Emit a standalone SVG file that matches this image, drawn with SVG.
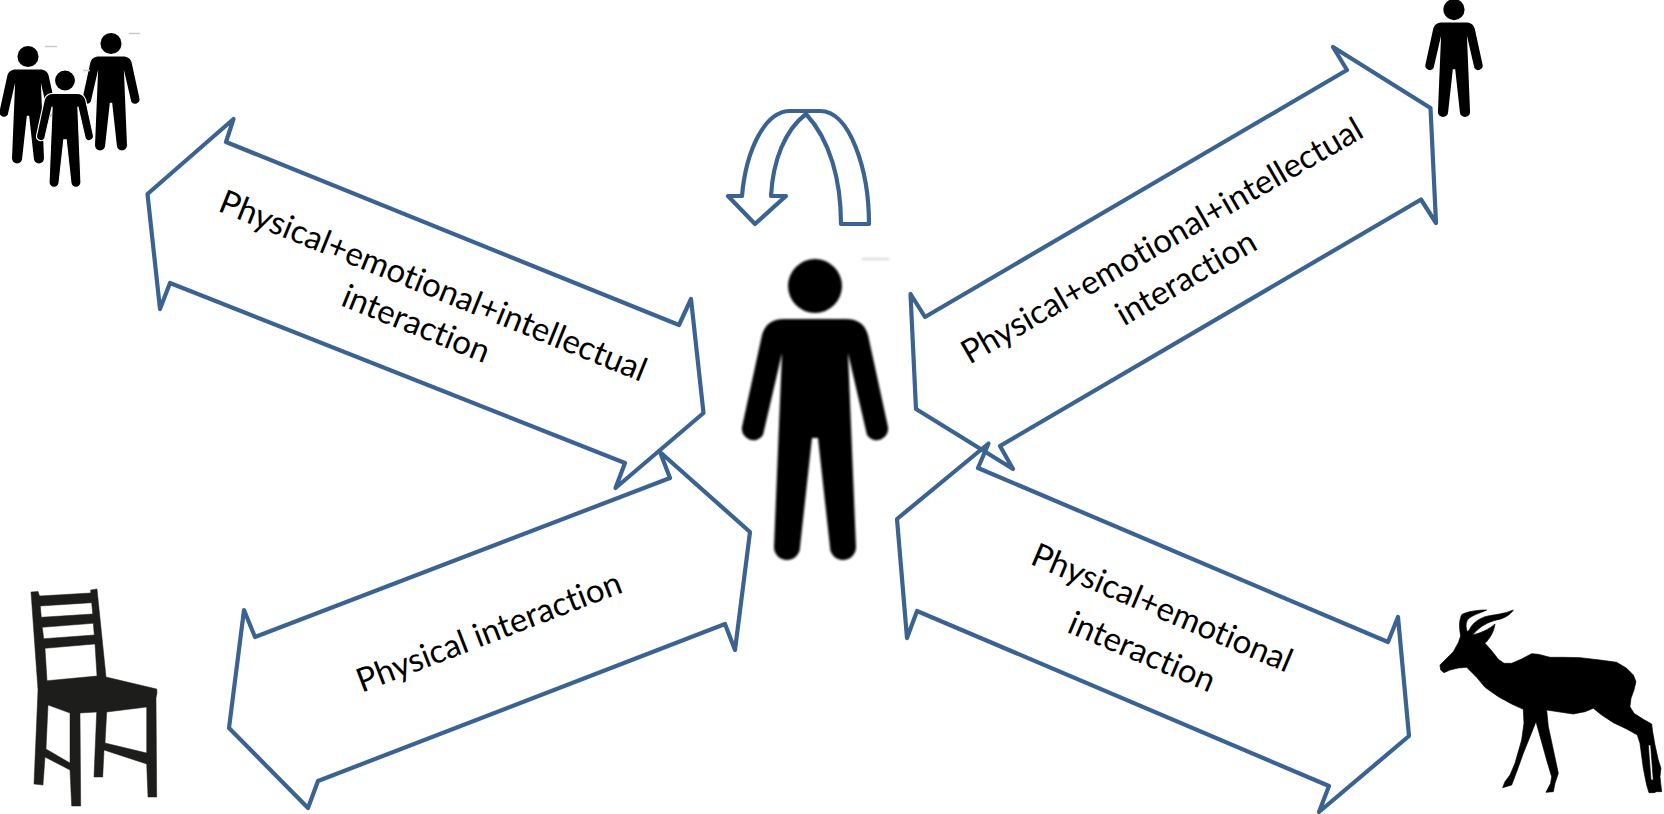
<svg xmlns="http://www.w3.org/2000/svg" width="1664" height="814" viewBox="0 0 1664 814">
<style>
.arrow{fill:none;stroke:#3b6391;stroke-width:4.2;stroke-linejoin:round;stroke-linecap:round}
.lbl{font-family:"Lato","Carlito","Liberation Sans",sans-serif;font-size:33px;fill:#000;text-anchor:middle;font-variant-ligatures:none}
.dash{stroke:#c9c9c9;stroke-width:1.5}
.soft{filter:url(#soft)}
.softer{filter:url(#softer)}
</style>
<defs>
<filter id="soft" x="-5%" y="-5%" width="110%" height="110%"><feGaussianBlur stdDeviation="0.6"/></filter>
<filter id="softer" x="-5%" y="-5%" width="110%" height="110%"><feGaussianBlur stdDeviation="1"/></filter>
<g id="person">
<circle cx="0" cy="27" r="27"/>
<path d="M-30 60H30C44 60 50 66 53 76L73 168A11.500 11.500 0 0 1 52 176L33 94L41 288A13 13 0 0 1 15 288L3 179H-3L-15 288A13 13 0 0 1 -41 288L-33 94L-52 176A11.500 11.500 0 0 1 -73 168L-53 76C-50 66 -44 60 -30 60Z"/>
</g>
</defs>
<rect width="1664" height="814" fill="#fff"/>
<g id="connectors">
<path class="arrow" d="M147.500 194L233.500 119L226 142L679 325L691 299L703.500 413L615.500 488L625 463L170 283L160 309Z"/>
<path class="arrow" d="M660 452L750 532L735 650L725 624L318 781L308 808L229 728L244 610L255 637L670 478Z"/>
<path class="arrow" d="M1333 47L1347 70L925 317L910.500 294L916 409L1013 469L1000 446L1421 199.500L1436 223L1430.500 108Z"/>
<path class="arrow" d="M988.500 443.500L978 468L1388 642L1398 617L1409 736L1319 812L1329 786L917 611L907 638L897 519Z"/>
<path id="self-loop" class="arrow" d="M742 196C746 150 765 111 790 111H820C850 111 869 170 869 224H841C841 180 830 140 806 114C785 130 773 160 771 196H786L755 224L728 196Z"/>
</g>
<g id="labels">
<g transform="translate(433 286) rotate(22)"><text class="lbl" y="11">Physical+emotional+intellectual</text></g>
<g transform="translate(416 324) rotate(22)"><text class="lbl" y="11">interaction</text></g>
<g transform="translate(489 632) rotate(-21)"><text class="lbl" y="11">Physical interaction</text></g>
<g transform="translate(1162 241) rotate(-30)"><text class="lbl" y="11">Physical+emotional+intellectual</text></g>
<g transform="translate(1186 278) rotate(-30)"><text class="lbl" y="11">interaction</text></g>
<g transform="translate(1162 608) rotate(23)"><text class="lbl" y="11">Physical+emotional</text></g>
<g transform="translate(1142 652) rotate(23)"><text class="lbl" y="11">interaction</text></g>
</g>
<g id="node-self" class="softer">
<use href="#person" transform="translate(815 259)"/>
<line class="dash" x1="862" y1="259" x2="889" y2="259"/>
</g>
<g id="node-group" class="soft">
<use href="#person" transform="translate(28 46) scale(.39)"/>
<use href="#person" transform="translate(111 33) scale(.39)"/>
<use href="#person" transform="translate(65 70) scale(.39)" stroke="#fff" stroke-width="3"/>
<line class="dash" x1="45" y1="46.500" x2="57" y2="46.500"/>
<line class="dash" x1="129" y1="33.500" x2="140" y2="33.500"/>
<line class="dash" x1="83" y1="70.500" x2="90" y2="70.500"/>
</g>
<g id="node-person" class="soft">
<use href="#person" transform="translate(1454 -1) scale(.392)"/>
</g>
<g id="node-chair">
<path fill="#1d1d1b" fill-rule="evenodd" stroke="#1d1d1b" stroke-width=".5" stroke-linejoin="round" d="M31 592L38 591.500L39.500 596L90.700 593V590L97 589L106 677L156.700 689L157 693L156 698L156.700 797H148L146.700 764L104 750L102.700 777H94L96.700 712L80 713L80.700 806H71.700L70 770L45 757L43 785L34 784L38 690ZM40.300 606L91.700 602.700L92.700 614L41.300 617.300ZM42.300 627.300L93.300 623.300L94.300 635L43.700 638.700ZM45 648.300L95 644L97 676L47 680.700ZM46 749L70 763V713L48 705ZM105 743L146.700 753V707L106.700 712Z"/>
</g>
<g id="node-animal" class="soft">
<path transform="translate(1430 600) scale(.3333)" fill-rule="evenodd" stroke="#000" stroke-width="2" stroke-linejoin="round" d="M30 195L50 175L70 155L85 128L92 108C88 85 86 65 95 44C110 35 140 30 170 30C150 40 125 45 112 60C106 72 108 85 112 95L118 90C125 75 135 62 165 50C190 44 225 42 250 30C240 46 220 56 200 60C175 66 150 78 128 105C150 100 178 88 195 72C192 95 180 115 165 130L185 152L205 178L222 190L245 190L275 177L305 161L325 163L360 172L400 172L450 173L510 180L560 187L590 205L610 225L618 245L612 270L603 295L600 320L612 340L640 358L665 372L668 395L675 435L685 480L693 505L690 530L695 575L680 575L672 578L657 578L650 555L640 505L630 430L622 405L590 387L550 368L515 345L490 325L465 335L430 342L395 337L350 330L355 380L368 440L385 520L375 550L370 575L348 577L362 550L365 530L350 480L318 365L300 410L280 460L262 510L245 555L218 563L225 545L240 525L255 490L275 420L282 370L280 328L245 312L205 290L165 262L140 232L110 202L85 204L60 210L42 218L32 210ZM655 435L662 435L670 540L663 540Z"/>
</g>
</svg>
